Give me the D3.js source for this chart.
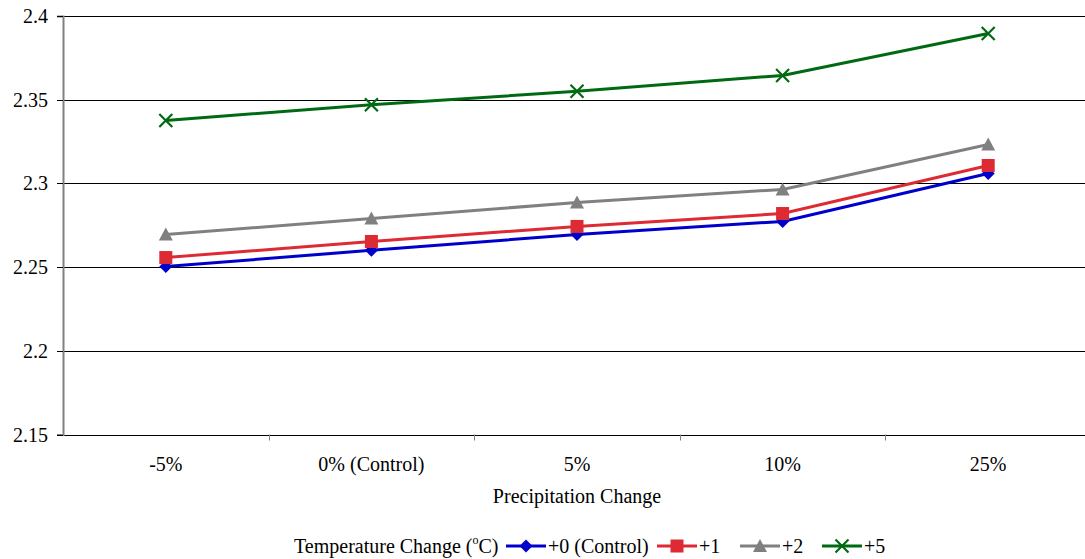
<!DOCTYPE html>
<html>
<head>
<meta charset="utf-8">
<script src="https://cdnjs.cloudflare.com/ajax/libs/d3/7.8.5/d3.min.js"></script>
<style>
  body { margin: 0; background: #fff; }
  svg text { font-family: "Liberation Serif", "Times New Roman", serif; fill: #000; }
</style>
</head>
<body>
<script>
// data
var categories = ["-5%", "0% (Control)", "5%", "10%", "25%"];
var seriesNames = ["+0 (Control)", "+1", "+2", "+5"];
var control = [2.2504, 2.2600, 2.2695, 2.2773, 2.3059];
var plusOne = [2.2557, 2.2653, 2.2743, 2.2820, 2.3107];
var plusTwo = [2.2695, 2.2790, 2.2886, 2.2964, 2.3232];
var plusFive = [2.3376, 2.3470, 2.3550, 2.3645, 2.3895];
var yTicks = [2.15, 2.2, 2.25, 2.3, 2.35, 2.4];
var colors = ["#0000cc", "#dd2a33", "#808080", "#006a13"];
var symbols = ["diamond", "square", "triangle", "cross"];
var allSeries = [control, plusOne, plusTwo, plusFive];

var W = 1085, H = 559;
var margin = {top: 16, left: 63};
var plotW = 1028, plotH = 418.5;
var FS = 20;

var svg = d3.select("body").append("svg")
  .attr("width", W).attr("height", H);

var g = svg.append("g")
  .attr("transform", "translate(" + margin.left + "," + margin.top + ")");

var x = d3.scaleBand().domain(categories).range([0, plotW]);
var y = d3.scaleLinear().domain([2.15, 2.4]).range([plotH, 0]);

// gridlines
g.append("g").selectAll("line")
  .data(yTicks).enter().append("line")
  .attr("x1", 0).attr("x2", plotW)
  .attr("y1", function(d){ return Math.round(y(d)) + 0.5; })
  .attr("y2", function(d){ return Math.round(y(d)) + 0.5; })
  .attr("stroke", "#000").attr("stroke-width", 1);

// y axis
var yAxis = g.append("g")
  .call(d3.axisLeft(y).tickValues(yTicks).tickSize(6).tickFormat(function(d){ return String(+d.toFixed(2)); }));
yAxis.select(".domain").attr("stroke", "#808080").attr("stroke-width", 2);
yAxis.selectAll(".tick").attr("transform", function(d){ return "translate(0," + (Math.round(y(d)) + 0.5) + ")"; });
yAxis.selectAll(".tick line").attr("stroke", "#000");
yAxis.selectAll(".tick text")
  .attr("font-size", FS).attr("x", -15).attr("dy", "0.33em");

// x axis ticks (between categories)
var xTickPos = categories.slice(1).map(function(c){ return x(c); });
g.append("g").selectAll("line")
  .data(xTickPos).enter().append("line")
  .attr("x1", function(d){ return Math.round(d) + 0.5; })
  .attr("x2", function(d){ return Math.round(d) + 0.5; })
  .attr("y1", plotH).attr("y2", plotH + 6)
  .attr("stroke", "#808080").attr("stroke-width", 1);

g.append("g").selectAll("text")
  .data(categories).enter().append("text")
  .attr("x", function(d){ return x(d) + x.bandwidth() / 2; })
  .attr("y", plotH + 36)
  .attr("text-anchor", "middle")
  .attr("font-size", FS)
  .text(function(d){ return d; });

// axis title
svg.append("text")
  .attr("x", 577).attr("y", 503)
  .attr("text-anchor", "middle")
  .attr("font-size", FS)
  .text("Precipitation Change");

// marker drawing
function drawMarker(sel, type, color) {
  if (type === "diamond") {
    sel.append("path").attr("d", "M0,-6.5L6.5,0L0,6.5L-6.5,0Z").attr("fill", color);
  } else if (type === "square") {
    sel.append("rect").attr("x", -6.5).attr("y", -6.5).attr("width", 13).attr("height", 13).attr("fill", color);
  } else if (type === "triangle") {
    sel.append("path").attr("d", "M0,-7L7,6L-7,6Z").attr("fill", color);
  } else {
    sel.append("path").attr("d", "M-6.5,-6.5L6.5,6.5M-6.5,6.5L6.5,-6.5")
      .attr("stroke", color).attr("stroke-width", 2.2).attr("fill", "none");
  }
}

var line = d3.line()
  .x(function(d, i){ return x(categories[i]) + x.bandwidth() / 2; })
  .y(function(d){ return y(d); });

allSeries.forEach(function(vals, si) {
  g.append("path")
    .datum(vals)
    .attr("d", line)
    .attr("fill", "none")
    .attr("stroke", colors[si])
    .attr("stroke-width", 3);
  vals.forEach(function(v, i) {
    var m = g.append("g")
      .attr("transform", "translate(" + (x(categories[i]) + x.bandwidth() / 2) + "," + y(v) + ")");
    drawMarker(m, symbols[si], colors[si]);
  });
});

// legend
var legend = svg.append("g").attr("transform", "translate(0,553)");
var lt = legend.append("text").attr("x", 294).attr("y", 0).attr("font-size", FS);
lt.append("tspan").text("Temperature Change (");
lt.append("tspan").attr("font-size", 12).attr("dy", -9).text("o");
lt.append("tspan").attr("dy", 9).text("C)");

var legendX = [506, 657, 740, 822];
seriesNames.forEach(function(name, si) {
  var item = legend.append("g").attr("transform", "translate(" + legendX[si] + ",-7)");
  item.append("line").attr("x1", 0).attr("x2", 40).attr("y1", 0).attr("y2", 0)
    .attr("stroke", colors[si]).attr("stroke-width", 3);
  drawMarker(item.append("g").attr("transform", "translate(20,0)"), symbols[si], colors[si]);
  item.append("text").attr("x", 42).attr("y", 7).attr("font-size", FS).text(name);
});
</script>
</body>
</html>
